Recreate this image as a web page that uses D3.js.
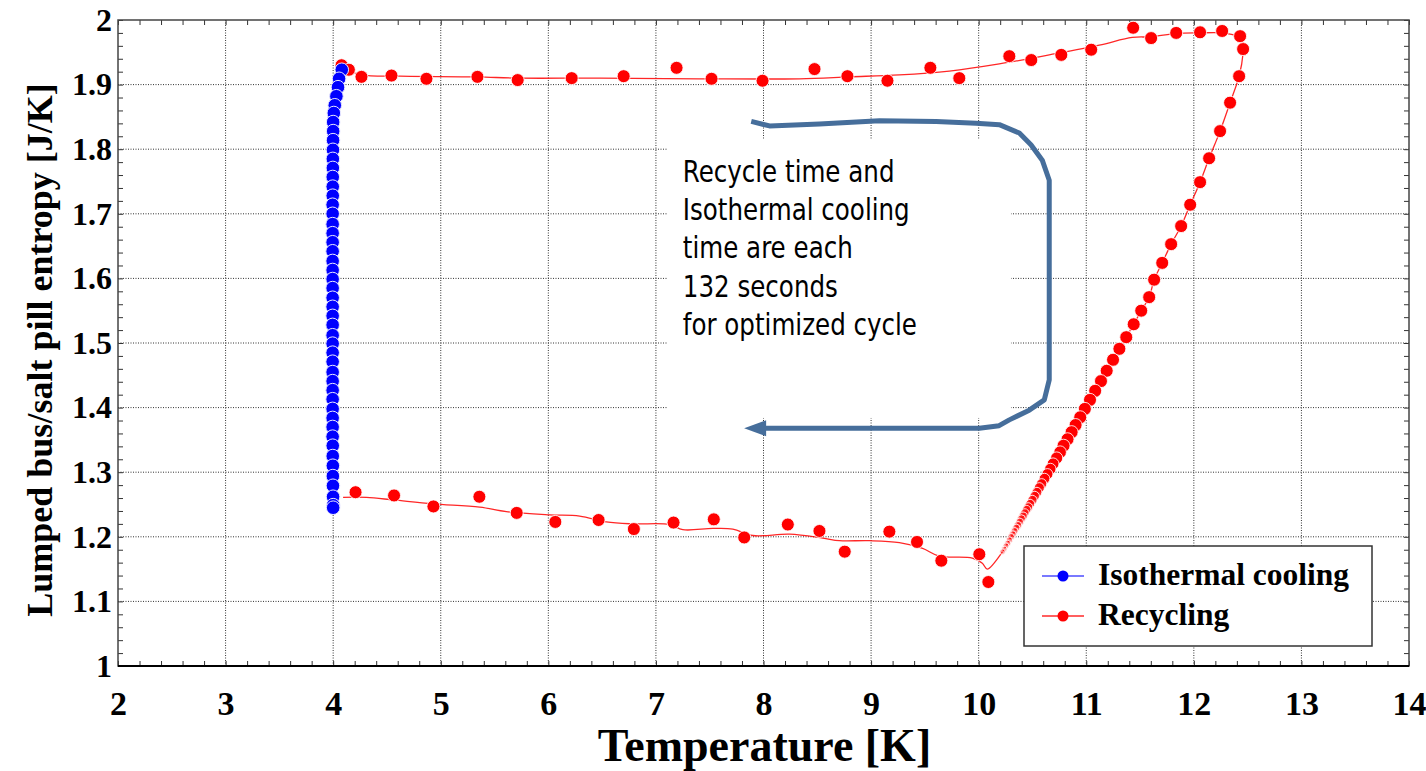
<!DOCTYPE html>
<html>
<head>
<meta charset="utf-8">
<script src="https://cdn.jsdelivr.net/npm/d3@7"></script>
<style>
    body { margin: 0; background: #fff; }
    #chart text { font-family: "Liberation Serif", "Times New Roman", serif; font-weight: bold; }
    #chart .note { font-family: "Liberation Sans Narrow", "Arial Narrow", "DejaVu Sans Condensed", sans-serif; font-weight: normal; }
</style>
</head>
<body>
<div id="chart"></div>
<script>
//Ejes
const xTicks = [2, 3, 4, 5, 6, 7, 8, 9, 10, 11, 12, 13, 14];
const yTicks = [1, 1.1, 1.2, 1.3, 1.4, 1.5, 1.6, 1.7, 1.8, 1.9, 2];
const yTickLabels = ['1', '1.1', '1.2', '1.3', '1.4', '1.5', '1.6', '1.7', '1.8', '1.9', '2'];

//Isothermal cooling (T, S)
const isoT = [4.08, 4.055, 4.045, 4.03, 4.015, 4.006, 4.0, 4.0, 3.999, 3.998,
    3.997, 3.997, 3.996, 3.996, 3.996, 3.995, 3.995, 3.995, 3.995, 3.995,
    3.995, 3.995, 3.995, 3.995, 3.995, 3.995, 3.995, 3.995, 3.995, 3.995,
    3.995, 3.995, 3.995, 3.995, 3.995, 3.995, 3.995, 3.995, 3.995, 3.995,
    3.995, 3.996, 3.996, 3.997, 3.997, 3.998, 3.999, 4.0, 4.0];
const isoS = [1.923, 1.909, 1.896, 1.882, 1.868, 1.856, 1.842, 1.828, 1.814, 1.799,
    1.785, 1.771, 1.757, 1.742, 1.728, 1.714, 1.700, 1.684, 1.670, 1.656,
    1.642, 1.627, 1.613, 1.599, 1.585, 1.570, 1.556, 1.542, 1.528, 1.512,
    1.499, 1.485, 1.471, 1.455, 1.441, 1.427, 1.413, 1.398, 1.384, 1.370,
    1.355, 1.341, 1.325, 1.310, 1.294, 1.279, 1.262, 1.249, 1.245];

//Recycling - puntos tramo superior
const recTopT = [4.078, 4.146, 4.263, 4.542, 4.867, 5.341, 5.715, 6.217, 6.700, 7.192,
    7.517, 7.991, 8.474, 8.780, 9.152, 9.551, 9.820, 10.285, 10.489, 10.768,
    11.046, 11.436, 11.603, 11.836, 12.058, 12.263, 12.430];
const recTopS = [1.930, 1.923, 1.912, 1.914, 1.909, 1.912, 1.907, 1.910, 1.913, 1.926,
    1.909, 1.906, 1.924, 1.913, 1.906, 1.926, 1.910, 1.944, 1.938, 1.946,
    1.954, 1.988, 1.972, 1.980, 1.981, 1.983, 1.975];

//Recycling - tramo derecho y diagonal (puntos y linea)
const recDiagT = [12.458, 12.421, 12.337, 12.244, 12.142, 12.058, 11.966, 11.882, 11.789, 11.706,
    11.631, 11.585, 11.511, 11.441, 11.372, 11.308, 11.249, 11.190, 11.137, 11.083,
    11.035, 10.987, 10.944, 10.901, 10.864, 10.826, 10.789, 10.757, 10.725, 10.692,
    10.666, 10.639, 10.612, 10.585, 10.564, 10.542, 10.521, 10.500, 10.479, 10.462,
    10.446, 10.430, 10.414, 10.398, 10.382, 10.366, 10.350, 10.334, 10.318, 10.302,
    10.286, 10.270, 10.254, 10.238, 10.222];
const recDiagS = [1.955, 1.913, 1.872, 1.828, 1.786, 1.749, 1.714, 1.681, 1.653, 1.624,
    1.598, 1.571, 1.550, 1.529, 1.509, 1.491, 1.474, 1.457, 1.441, 1.426,
    1.412, 1.398, 1.385, 1.373, 1.362, 1.351, 1.341, 1.331, 1.322, 1.313,
    1.305, 1.297, 1.290, 1.282, 1.276, 1.269, 1.263, 1.257, 1.251, 1.246,
    1.242, 1.237, 1.232, 1.228, 1.223, 1.218, 1.214, 1.209, 1.204, 1.200,
    1.195, 1.190, 1.186, 1.181, 1.177];

//Recycling - puntos tramo inferior
const recBotT = [4.208, 4.566, 4.932, 5.359, 5.706, 6.065, 6.467, 6.795, 7.164, 7.538,
    7.821, 8.226, 8.520, 8.755, 9.170, 9.427, 9.653, 10.006, 10.090];
const recBotS = [1.269, 1.264, 1.247, 1.262, 1.237, 1.223, 1.226, 1.212, 1.222, 1.227,
    1.199, 1.219, 1.209, 1.177, 1.208, 1.192, 1.163, 1.173, 1.130];

//Recycling - linea suavizada
const recTopLineT = [4.124, 4.263, 4.619, 5.334, 5.715, 6.477, 7.405, 8.334, 8.799, 9.263,
    9.727, 10.192, 10.656, 11.121, 11.427, 11.603, 11.836, 12.049, 12.263, 12.402,
    12.458, 12.458];
const recTopLineS = [1.923, 1.915, 1.913, 1.912, 1.910, 1.910, 1.909, 1.909, 1.912, 1.915,
    1.921, 1.932, 1.946, 1.961, 1.973, 1.974, 1.979, 1.980, 1.980, 1.975,
    1.966, 1.949];
const recBotLineT = [4.092, 4.310, 4.563, 4.926, 5.362, 5.610, 6.012, 6.291, 6.539, 6.786,
    7.127, 7.250, 7.529, 7.715, 7.901, 8.242, 8.551, 8.706, 8.984, 9.263,
    9.479, 9.634, 9.941, 10.034, 10.080];
const recBotLineS = [1.261, 1.261, 1.257, 1.251, 1.246, 1.239, 1.234, 1.232, 1.223, 1.220,
    1.219, 1.211, 1.213, 1.212, 1.202, 1.204, 1.198, 1.194, 1.194, 1.191,
    1.182, 1.170, 1.167, 1.159, 1.150];

//Flecha de la anotacion
const arrowT = [7.886, 8.056, 8.520, 9.077, 9.604, 9.975, 10.192, 10.378, 10.486, 10.591,
    10.656, 10.656, 10.656, 10.61, 10.47, 10.285, 10.19, 10.006, 8.00];
const arrowS = [1.843, 1.836, 1.839, 1.844, 1.843, 1.840, 1.838, 1.825, 1.807, 1.783,
    1.752, 1.600, 1.443, 1.412, 1.396, 1.381, 1.372, 1.368, 1.368];
const arrowTip = [7.82, 1.368];
const noteLines = ['Recycle time and', 'Isothermal cooling', 'time are each', '132 seconds', 'for optimized cycle'];
const noteBox = [7.11, 10.30, 1.384, 1.816];

const legendLabels = ['Isothermal cooling', 'Recycling'];

const BLUE = '#0000ff', RED = '#ff0000', ARROW = '#466e9b';

function zipPts(ts, ss) { return ts.map(function(t, i) { return {t: t, s: ss[i]}; }); }

let margin = {top: 20, right: 17, bottom: 105, left: 118},
    width = 1426 - margin.left - margin.right,
    height = 771 - margin.top - margin.bottom;

let svg = d3.select('#chart')
    .append('svg')
        .attr('width', 1426)
        .attr('height', 771)
    .append('g')
        .attr('transform', 'translate(' + margin.left + ',' + margin.top + ')');

let x = d3.scaleLinear().domain([2, 14]).range([0, width]);
let y = d3.scaleLinear().domain([1, 2]).range([height, 0]);

//////// GRID
svg.append('g')
    .selectAll('line')
    .data(xTicks.slice(1, -1))
    .join('line')
    .attr('x1', function(d) { return x(d); })
    .attr('x2', function(d) { return x(d); })
    .attr('y1', 0)
    .attr('y2', height)
    .attr('stroke', '#333')
    .attr('stroke-width', 1)
    .attr('stroke-dasharray', '1,1.5');

svg.append('g')
    .selectAll('line')
    .data(yTicks.slice(1, -1))
    .join('line')
    .attr('x1', 0)
    .attr('x2', width)
    .attr('y1', function(d) { return y(d); })
    .attr('y2', function(d) { return y(d); })
    .attr('stroke', '#333')
    .attr('stroke-width', 1)
    .attr('stroke-dasharray', '1,1.5');

//////// TICKS MENORES (hacia dentro en los cuatro lados)
function minorTicks(g) {
    g.select('.domain').remove();
    g.selectAll('.tick line').attr('stroke', '#333');
}
svg.append('g').attr('transform', 'translate(0,' + height + ')')
    .call(d3.axisBottom(x).tickValues(x.ticks(60)).tickSize(-5).tickFormat(''))
    .call(minorTicks);
svg.append('g')
    .call(d3.axisTop(x).tickValues(x.ticks(60)).tickSize(-5).tickFormat(''))
    .call(minorTicks);
svg.append('g')
    .call(d3.axisLeft(y).tickValues(y.ticks(50)).tickSize(-5).tickFormat(''))
    .call(minorTicks);
svg.append('g').attr('transform', 'translate(' + width + ',0)')
    .call(d3.axisRight(y).tickValues(y.ticks(50)).tickSize(-5).tickFormat(''))
    .call(minorTicks);

//Marco
svg.append('rect')
    .attr('width', width)
    .attr('height', height)
    .attr('fill', 'none')
    .attr('stroke', '#444')
    .attr('stroke-width', 1.5);
svg.append('line')
    .attr('x1', 0).attr('x2', width)
    .attr('y1', height).attr('y2', height)
    .attr('stroke', '#000').attr('stroke-width', 2);

//////// ETIQUETAS DE EJES
svg.append('g')
    .attr('transform', 'translate(0,' + height + ')')
    .call(d3.axisBottom(x).tickValues(xTicks).tickSize(0).tickPadding(25).tickFormat(d3.format('d')))
    .call(function(g) { g.select('.domain').remove(); })
    .attr('font-size', 34)
    .attr('font-family', null)
    .attr('fill', '#000');

svg.append('g')
    .call(d3.axisLeft(y).tickValues(yTicks).tickSize(0).tickPadding(6).tickFormat(function(d, i) { return yTickLabels[i]; }))
    .call(function(g) { g.select('.domain').remove(); })
    .attr('font-size', 32)
    .attr('font-family', null)
    .attr('fill', '#000');

svg.append('text')
    .attr('x', width / 2 + 1)
    .attr('y', height + 95)
    .attr('text-anchor', 'middle')
    .attr('font-size', 46)
    .text('Temperature [K]');

svg.append('text')
    .attr('transform', 'translate(' + (52 - margin.left) + ',' + (height / 2 + 7) + ') rotate(-90)')
    .attr('text-anchor', 'middle')
    .attr('font-size', 36)
    .text('Lumped bus/salt pill entropy [J/K]');

//////// ANOTACION
svg.append('rect')
    .attr('x', x(noteBox[0]))
    .attr('y', y(noteBox[3]))
    .attr('width', x(noteBox[1]) - x(noteBox[0]))
    .attr('height', y(noteBox[2]) - y(noteBox[3]))
    .attr('fill', '#fff');

let arrowPts = zipPts(arrowT, arrowS);
svg.append('path')
    .datum(arrowPts)
    .attr('fill', 'none')
    .attr('stroke', ARROW)
    .attr('stroke-width', 5)
    .attr('stroke-linejoin', 'round')
    .attr('d', d3.line()
        .x(function(d) { return x(d.t); })
        .y(function(d) { return y(d.s); }));

let tipX = x(arrowTip[0]), tipY = y(arrowTip[1]);
svg.append('path')
    .attr('d', 'M' + tipX + ',' + tipY + 'L' + (tipX + 22) + ',' + (tipY - 8) + 'L' + (tipX + 22) + ',' + (tipY + 8) + 'Z')
    .attr('fill', ARROW);

//Texto algo estrecho, como en el original
let note = svg.append('text')
    .attr('class', 'note')
    .attr('transform', 'translate(' + x(7.25) + ',' + y(1.75) + ') scale(0.91,1)')
    .attr('font-size', 30)
    .attr('fill', '#000');
note.selectAll('tspan')
    .data(noteLines)
    .join('tspan')
    .attr('x', 0)
    .attr('dy', function(d, i) { return i == 0 ? 0 : 38.5; })
    .text(function(d) { return d; });

//////// SERIES
let line = d3.line()
    .x(function(d) { return x(d.t); })
    .y(function(d) { return y(d.s); })
    .curve(d3.curveCatmullRom.alpha(0.5));

let recLinePts = zipPts(recTopLineT, recTopLineS)
    .concat(zipPts(recDiagT, recDiagS).slice(1))
    .concat(zipPts(recBotLineT, recBotLineS).reverse());

svg.append('path')
    .datum(recLinePts)
    .attr('fill', 'none')
    .attr('stroke', RED)
    .attr('stroke-opacity', 0.85)
    .attr('stroke-width', 1.3)
    .attr('d', line);

//Tamaño y opacidad de los puntos en la zona densa de la diagonal
let rScale = d3.scaleLinear().domain([1.17, 1.34]).range([2.6, 6.5]).clamp(true);
let oScale = d3.scaleLinear().domain([1.17, 1.30]).range([0.3, 1]).clamp(true);

let recMarks = zipPts(recTopT, recTopS)
    .concat(zipPts(recBotT, recBotS))
    .map(function(d) { d.dense = false; return d; })
    .concat(zipPts(recDiagT, recDiagS).map(function(d) { d.dense = true; return d; }));

svg.append('g')
    .selectAll('circle')
    .data(recMarks)
    .join('circle')
    .attr('cx', function(d) { return x(d.t); })
    .attr('cy', function(d) { return y(d.s); })
    .attr('r', function(d) { return d.dense ? rScale(d.s) : 6.5; })
    .attr('fill', RED)
    .attr('fill-opacity', function(d) { return d.dense ? oScale(d.s) : 1; })
    .attr('stroke', '#fff')
    .attr('stroke-opacity', 0.85)
    .attr('stroke-width', 1);

let isoPts = zipPts(isoT, isoS);
svg.append('path')
    .datum(isoPts)
    .attr('fill', 'none')
    .attr('stroke', BLUE)
    .attr('stroke-width', 1.2)
    .attr('d', line);

svg.append('g')
    .selectAll('circle')
    .data(isoPts)
    .join('circle')
    .attr('cx', function(d) { return x(d.t); })
    .attr('cy', function(d) { return y(d.s); })
    .attr('r', 6.8)
    .attr('fill', BLUE)
    .attr('stroke', '#e8e8ff')
    .attr('stroke-width', 1);

//////// LEYENDA
let legend = svg.append('g')
    .attr('transform', 'translate(' + (1024 - margin.left) + ',' + (546 - margin.top) + ')');

legend.append('rect')
    .attr('width', 348)
    .attr('height', 100)
    .attr('fill', '#fff')
    .attr('stroke', '#333')
    .attr('stroke-width', 1.5);

let items = legend.selectAll('g.item')
    .data(legendLabels)
    .join('g')
    .attr('class', 'item')
    .attr('transform', function(d, i) { return 'translate(0,' + (30 + i * 40) + ')'; });

items.append('line')
    .attr('x1', 18).attr('x2', 60)
    .attr('stroke', function(d, i) { return i == 0 ? '#4d4dff' : '#ff2a2a'; })
    .attr('stroke-width', 1.5);

items.append('circle')
    .attr('cx', 39)
    .attr('r', 5.5)
    .attr('fill', function(d, i) { return i == 0 ? BLUE : RED; });

items.append('text')
    .attr('x', 74)
    .attr('y', 9)
    .attr('font-size', 31.5)
    .text(function(d) { return d; });
</script>
</body>
</html>
